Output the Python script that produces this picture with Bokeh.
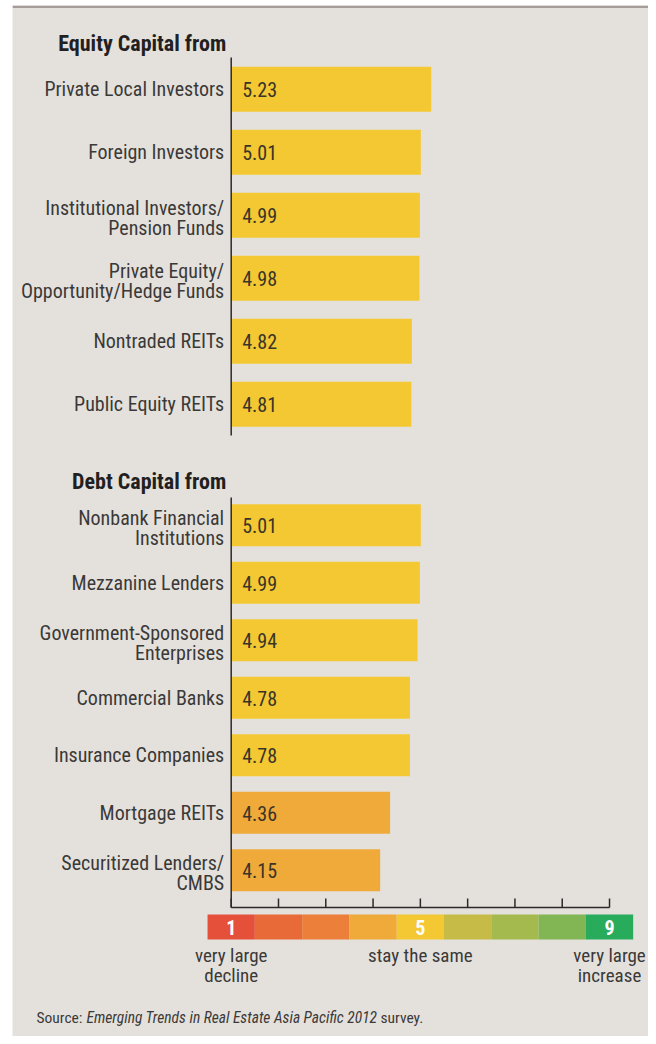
from bokeh.plotting import figure
from bokeh.models import Range1d, ColumnDataSource
from bokeh.core.properties import value
from bokeh.embed import file_html
from bokeh.resources import INLINE

# ---------------- data ----------------
equity_title = "Equity Capital from"
equity_categories = [
    "Private Local Investors",
    "Foreign Investors",
    "Institutional Investors/\nPension Funds",
    "Private Equity/\nOpportunity/Hedge Funds",
    "Nontraded REITs",
    "Public Equity REITs",
]
equity_values = [5.23, 5.01, 4.99, 4.98, 4.82, 4.81]

debt_title = "Debt Capital from"
debt_categories = [
    "Nonbank Financial\nInstitutions",
    "Mezzanine Lenders",
    "Government-Sponsored\nEnterprises",
    "Commercial Banks",
    "Insurance Companies",
    "Mortgage REITs",
    "Securitized Lenders/\nCMBS",
]
debt_values = [5.01, 4.99, 4.94, 4.78, 4.78, 4.36, 4.15]

scale_levels = [1, 2, 3, 4, 5, 6, 7, 8, 9]
scale_colors = ["#E5503A", "#E96A39", "#EC7F3A", "#F0AA3A", "#F4C832",
                "#C6BB46", "#A4BA4F", "#82B553", "#29AB5C"]
scale_number_levels = [1, 5, 9]
scale_caption_levels = [1, 5, 9]
scale_captions = ["very large\ndecline", "stay the same", "very large\nincrease"]

source_prefix = "Source:"
source_title = "Emerging Trends in Real Estate Asia Pacific 2012"
source_suffix = "survey."

# ---------------- layout ----------------
FONT = "Roboto Condensed"
BG = "#E4E1DD"
TEXT = "#3B3937"
AXIS = "#2A2A2A"

X1_PX = 230.7          # pixel of value 1
PX_PER_UNIT = 47.29    # pixels per unit of the 1-9 scale
W, H = 648, 1036
PANEL_LEFT, PANEL_TOP = 12, 5


def px2x(px):
    return 1 + (px - X1_PX) / PX_PER_UNIT


x_start, x_end = px2x(PANEL_LEFT), px2x(W)

p = figure(width=W, height=H, output_backend="svg", toolbar_location=None,
           x_range=Range1d(x_start, x_end), y_range=Range1d(H, PANEL_TOP),
           min_border_left=PANEL_LEFT, min_border_right=0, min_border_top=PANEL_TOP,
           min_border_bottom=0,
           background_fill_color=BG, border_fill_color="white", outline_line_color=None)
p.axis.visible = False
p.grid.visible = False

# top rule
p.segment(x0=[x_start], x1=[x_end], y0=[6.2], y1=[6.2], line_color="#A69C99", line_width=2.5)

# rows
eq_first, eq_step, eq_h = 88.8, 63.0, 45
de_first, de_step, de_h = 524.8, 57.5, 42

rows = []
for i, (c, v) in enumerate(zip(equity_categories, equity_values)):
    rows.append((eq_first + i * eq_step, eq_h, c, v))
for i, (c, v) in enumerate(zip(debt_categories, debt_values)):
    rows.append((de_first + i * de_step, de_h, c, v))

bars = ColumnDataSource(dict(
    y=[r[0] for r in rows], h=[r[1] for r in rows], v=[r[3] for r in rows],
    color=[scale_colors[int(round(r[3])) - 1] for r in rows],
    lab=["%.2f" % r[3] for r in rows],
    ly=[r[0] + 0.5 for r in rows],
))
p.hbar(y="y", left=1, right="v", height="h", fill_color="color", line_color=None, source=bars)
p.text(x=1, y="ly", text="lab", source=bars, x_offset=11, text_font=value(FONT),
       text_font_size="20px", text_color="#3A3428", text_baseline="middle", text_align="left")

# category labels
lx, ly, lt = [], [], []
for cy, h, c, v in rows:
    lines = c.split("\n")
    offs = [0.0] if len(lines) == 1 else [-7.8, 12.8]
    for ln, o in zip(lines, offs):
        lx.append(1); ly.append(cy + o); lt.append(ln)
p.text(x=lx, y=ly, text=lt, x_offset=-7, text_font=value(FONT), text_font_size="20px",
       text_color=TEXT, text_baseline="middle", text_align="right")

# section titles
p.text(x=[1, 1], y=[42.5, 481], text=[equity_title, debt_title], x_offset=-5,
       text_font=value(FONT), text_font_style="bold", text_font_size="22px",
       text_color="#231F20", text_baseline="middle", text_align="right")

# axis lines
p.segment(x0=[1, 1, 1], x1=[1, 1, 9], y0=[57, 497, 907], y1=[435, 907, 907],
          line_color=AXIS, line_width=1.5)
p.segment(x0=scale_levels, x1=scale_levels, y0=[898] * 9, y1=[907] * 9,
          line_color=AXIS, line_width=1.5)

# colour scale
p.rect(x=scale_levels, y=926.5, width=1, height=25, fill_color=scale_colors, line_color=None)
p.text(x=scale_number_levels, y=927, text=[str(n) for n in scale_number_levels],
       text_font=value(FONT), text_font_style="bold", text_font_size="20px",
       text_color="white", text_baseline="middle", text_align="center")

cx, cy_, ct = [], [], []
for lvl, cap in zip(scale_caption_levels, scale_captions):
    for k, ln in enumerate(cap.split("\n")):
        cx.append(lvl); cy_.append(955 + 20 * k); ct.append(ln)
p.text(x=cx, y=cy_, text=ct, text_font=value(FONT), text_font_size="19px",
       text_color=TEXT, text_baseline="middle", text_align="center")

# source
p.text(x=[px2x(36)], y=[1017.5], text=[source_prefix], text_font=value(FONT),
       text_font_size="15.5px", text_color=TEXT, text_baseline="middle")
p.text(x=[px2x(86)], y=[1017.5], text=[source_title], text_font=value(FONT),
       text_font_style="italic", text_font_size="15.5px", text_color=TEXT,
       text_baseline="middle")
p.text(x=[px2x(380)], y=[1017.5], text=[source_suffix], text_font=value(FONT),
       text_font_size="15.5px", text_color=TEXT, text_baseline="middle")

open("out.html", "w").write(file_html(p, INLINE))
